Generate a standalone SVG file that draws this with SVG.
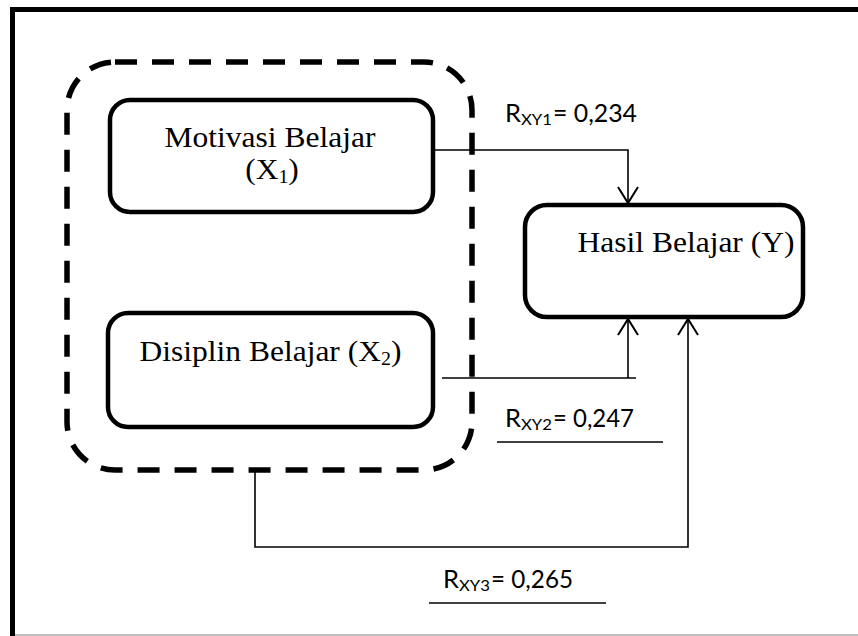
<svg xmlns="http://www.w3.org/2000/svg" width="858" height="636" viewBox="0 0 858 636">
<style>
.box{fill:#fff;stroke:#000;stroke-width:4.5}
.dash{fill:none;stroke:#000;stroke-width:5.5;stroke-dasharray:22 15}
.conn{fill:none;stroke:#000;stroke-width:1.6}
.t{font-family:"Liberation Serif","Times New Roman",serif;font-size:30px;fill:#000}
.l{font-family:Lato,"Liberation Sans",sans-serif;font-size:25px;fill:#000}
.ls{font-family:Lato,"Liberation Sans",sans-serif;font-size:15px;fill:#000}
</style>
<defs>
<marker id="arr" markerUnits="userSpaceOnUse" markerWidth="20" markerHeight="22" refX="17" refY="10" orient="auto" overflow="visible">
<path d="M1,0 L17,10 L1,20" fill="none" stroke="#000" stroke-width="2"/>
</marker>
</defs>
<rect width="858" height="636" fill="#fff"/>
<g id="frame">
<line x1="12.5" y1="9.5" x2="858" y2="9.5" stroke="#000" stroke-width="5"/>
<line x1="12.5" y1="7" x2="12.5" y2="636" stroke="#000" stroke-width="5"/>
<line x1="15" y1="635" x2="858" y2="635" stroke="#aaa" stroke-width="1.5"/>
</g>
<g id="group-x">
<rect class="dash" x="67" y="62" width="405" height="408" rx="48" ry="48"/>
</g>
<g id="connectors">
<path class="conn" d="M433,150 H628 V203" marker-end="url(#arr)"/>
<path class="conn" d="M442,378 H636"/>
<path class="conn" d="M628,378 V319" marker-end="url(#arr)"/>
<path class="conn" d="M255,470 V547 H688 V319" marker-end="url(#arr)"/>
</g>
<g id="node-x1">
<rect class="box" x="110" y="100" width="323" height="112" rx="20" ry="20"/>
<g transform="translate(270,147) scale(1.05,1)"><text class="t" text-anchor="middle">Motivasi Belajar</text></g>
<g transform="translate(272,179) scale(1.05,1)"><text class="t" text-anchor="middle">(X<tspan font-size="19" dy="4">1</tspan><tspan dy="-4">)</tspan></text></g>
</g>
<g id="node-x2">
<rect class="box" x="108" y="313" width="325" height="114" rx="20" ry="20"/>
<g transform="translate(270.5,361) scale(1.05,1)"><text class="t" text-anchor="middle">Disiplin Belajar (X<tspan font-size="19" dy="4">2</tspan><tspan dy="-4">)</tspan></text></g>
</g>
<g id="node-y">
<rect class="box" x="525" y="205" width="278" height="112" rx="22" ry="22"/>
<g transform="translate(686,252) scale(1.05,1)"><text class="t" text-anchor="middle">Hasil Belajar (Y)</text></g>
</g>
<g id="label-1">
<text class="l" x="505" y="122" textLength="16" lengthAdjust="spacingAndGlyphs">R</text>
<text class="ls" x="521" y="125" textLength="31" lengthAdjust="spacingAndGlyphs">XY1</text>
<text class="l" x="553" y="122" textLength="84" lengthAdjust="spacingAndGlyphs">= 0,234</text>
</g>
<g id="label-2">
<text class="l" x="505" y="427" textLength="16" lengthAdjust="spacingAndGlyphs">R</text>
<text class="ls" x="521" y="430" textLength="31" lengthAdjust="spacingAndGlyphs">XY2</text>
<text class="l" x="553" y="427" textLength="81" lengthAdjust="spacingAndGlyphs">= 0,247</text>
<line x1="497" y1="442" x2="663" y2="442" stroke="#000" stroke-width="1.5"/>
</g>
<g id="label-3">
<text class="l" x="443" y="588" textLength="16" lengthAdjust="spacingAndGlyphs">R</text>
<text class="ls" x="459" y="591" textLength="31" lengthAdjust="spacingAndGlyphs">XY3</text>
<text class="l" x="491" y="588" textLength="82" lengthAdjust="spacingAndGlyphs">= 0,265</text>
<line x1="429" y1="603" x2="606" y2="603" stroke="#000" stroke-width="1.5"/>
</g>
</svg>
